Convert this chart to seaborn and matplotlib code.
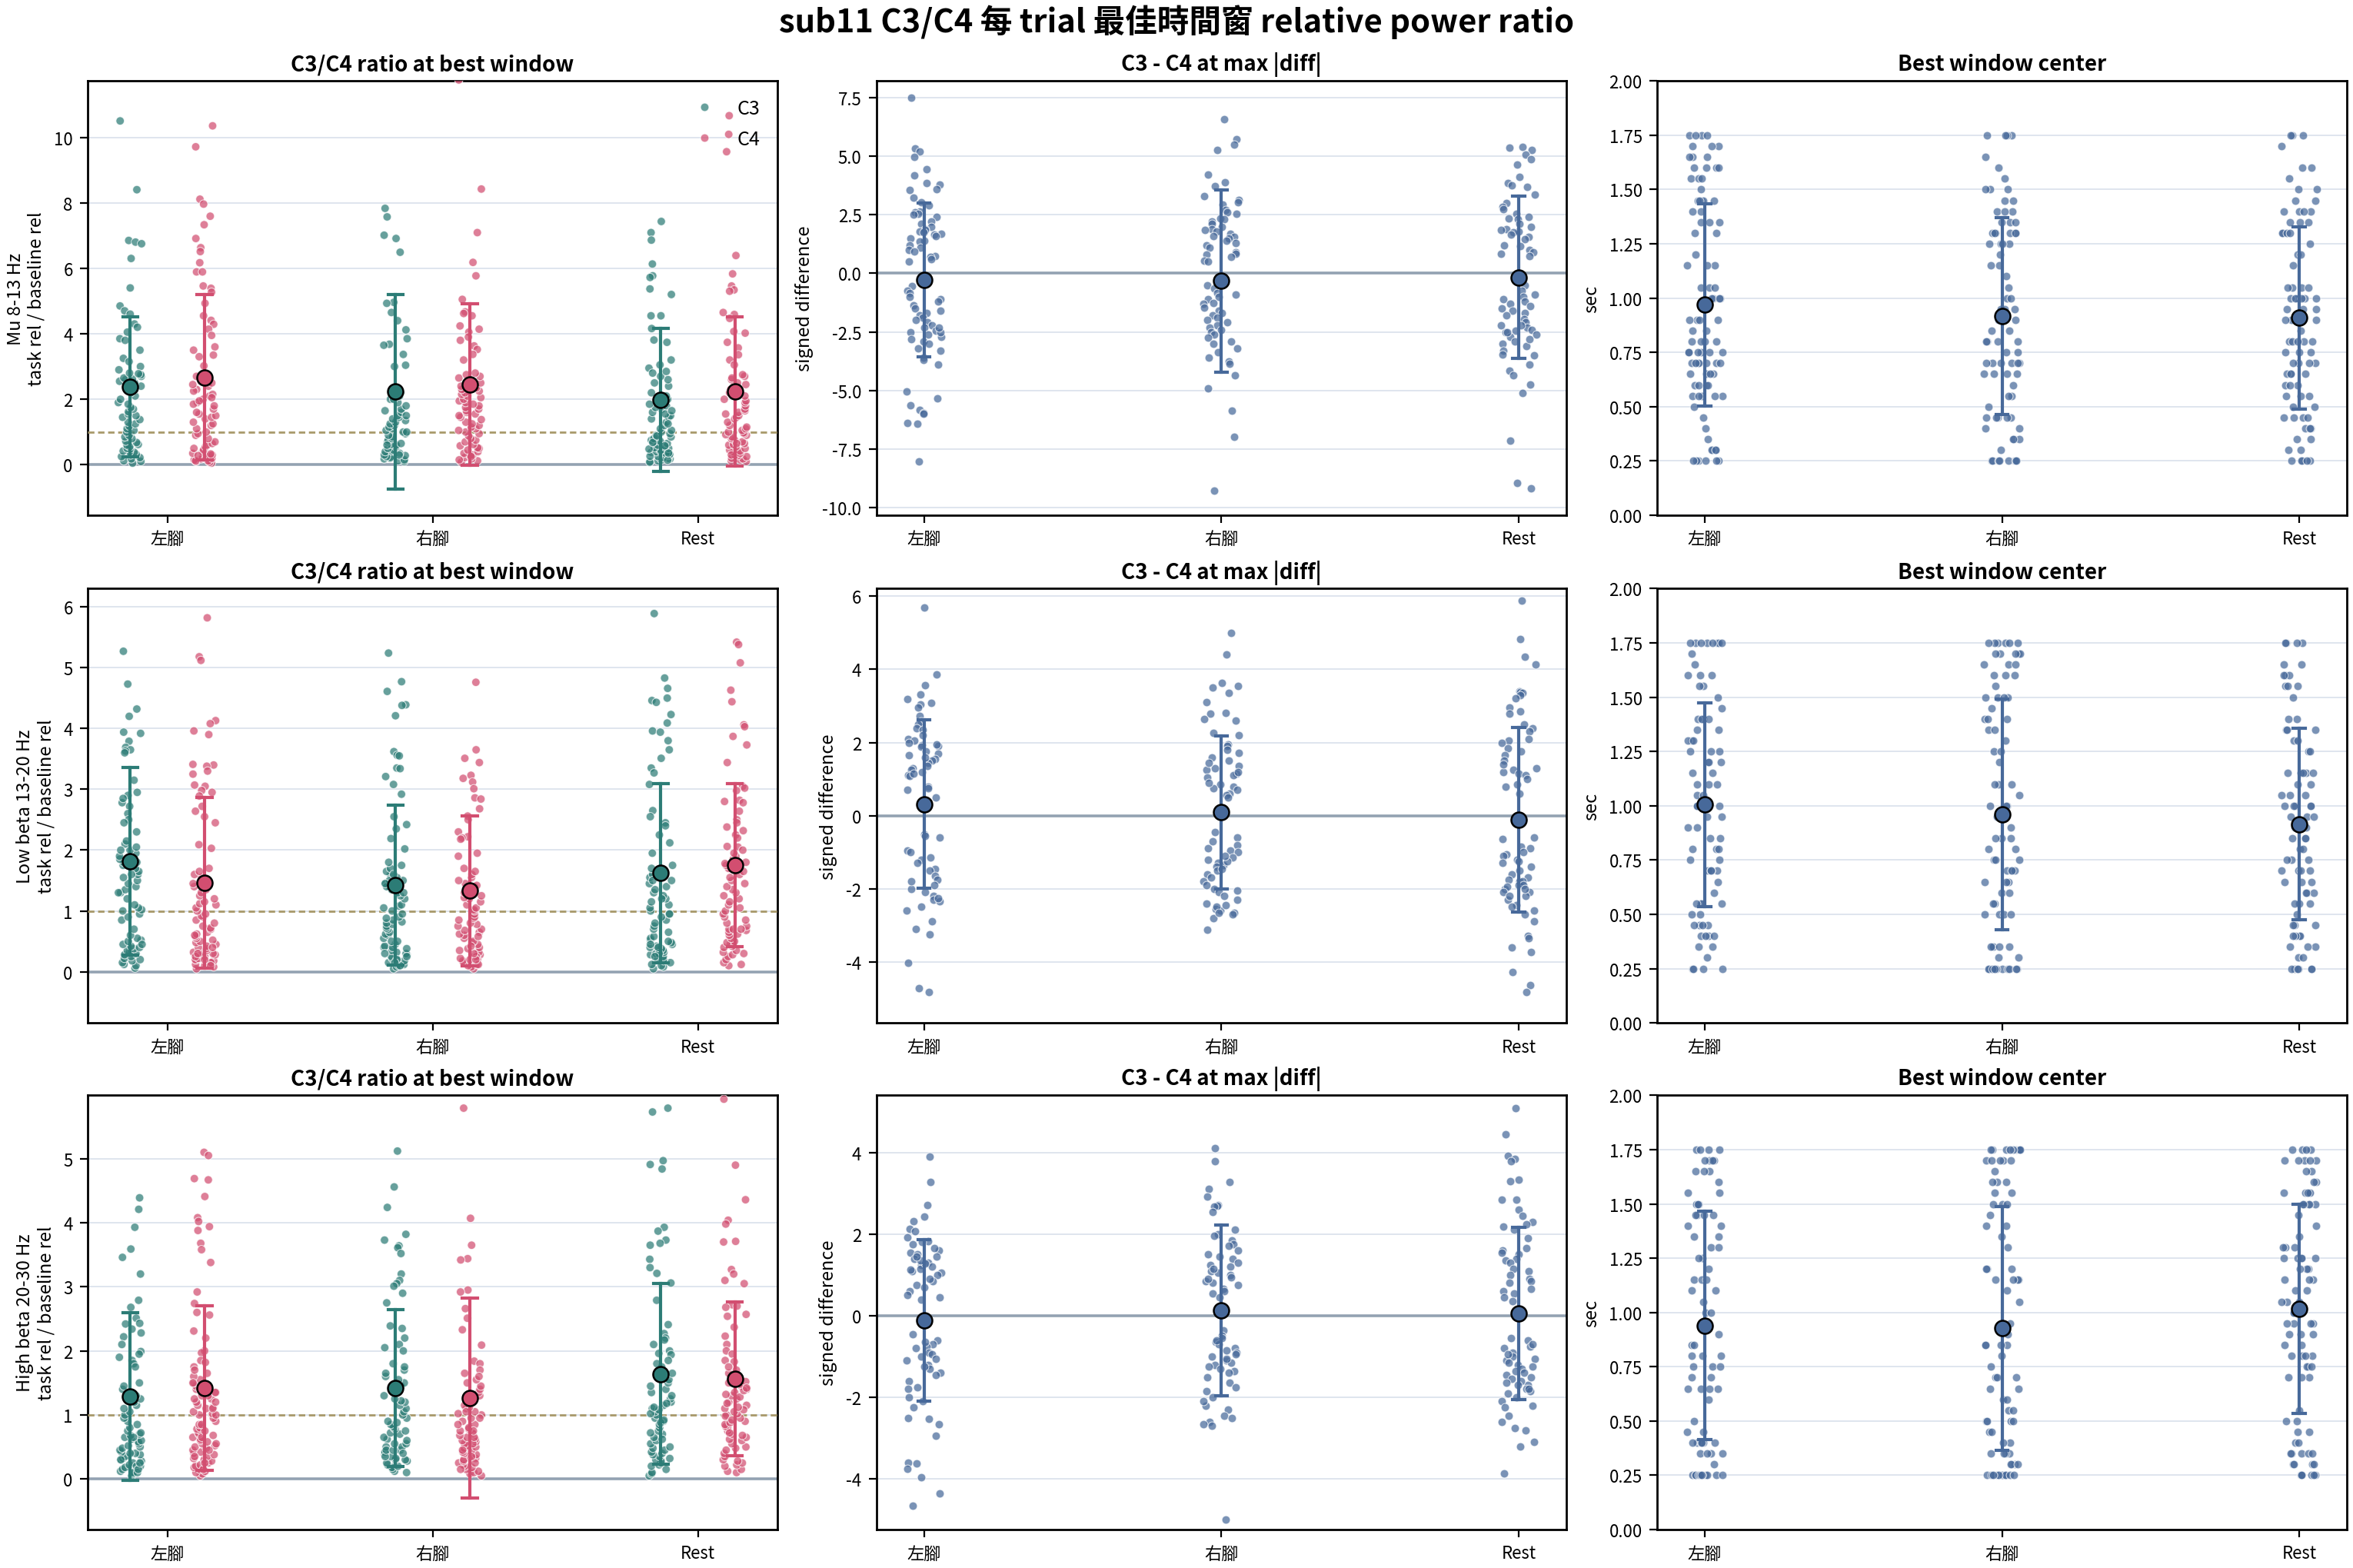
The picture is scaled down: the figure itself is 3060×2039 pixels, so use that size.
import numpy as np
import pandas as pd
import matplotlib
matplotlib.use('Agg')
import matplotlib.pyplot as plt
import seaborn as sns

# ---------------- data ----------------
conditions = ['左腳', '右腳', 'Rest']
band_labels = ['Mu 8-13 Hz\ntask rel / baseline rel',
               'Low beta 13-20 Hz\ntask rel / baseline rel',
               'High beta 20-30 Hz\ntask rel / baseline rel']

# Mu 8-13 Hz : C3 / C4 ratio at best window
mu_c3_left = [10.5, 8.4, 6.85, 6.8, 6.75, 6.3, 5.4, 4.85, 4.7, 4.6, 4.3, 4.2, 4.05, 3.85, 3.8, 3.5, 3.25, 3.15, 3.0, 2.9,
              0.05, 0.1, 0.12, 0.18, 0.22, 0.25, 0.3, 0.32, 0.38, 0.4, 0.42, 0.48, 0.5, 0.55, 0.6, 0.62, 0.68, 0.72, 0.8, 0.85, 0.9,
              1.0, 1.05, 1.1, 1.18, 1.25, 1.3, 1.38, 1.45, 1.5, 1.55, 1.62, 1.7, 1.75, 1.85, 1.9,
              2.0, 2.1, 2.2, 2.3, 2.4, 2.5, 2.55, 2.6, 2.62, 2.65, 2.7, 2.75, 2.78, 2.8]
mu_c4_left = [10.35, 9.71, 8.11, 7.96, 7.59, 7.33, 6.91, 6.63, 6.51, 6.17, 5.89, 5.89, 5.46, 5.39, 5.27, 4.93, 4.55, 4.41,
              4.29, 4.14, 3.95, 3.6, 3.5, 3.35, 3.3, 3.02,
              0.05, 0.08, 0.1, 0.12, 0.15, 0.18, 0.2, 0.22, 0.25, 0.28, 0.3, 0.33, 0.35, 0.4, 0.45, 0.5, 0.55, 0.6, 0.65, 0.7,
              0.12, 0.28, 0.8, 0.9, 0.95, 1.0, 1.1, 1.2, 1.25, 1.3, 1.4, 1.45, 1.5, 1.55, 1.6, 1.7, 1.8,
              1.9, 2.0, 2.1, 2.15, 2.3, 2.4, 2.5, 2.6, 2.7, 1.85, 1.95, 2.05, 2.25, 2.45, 2.55]
mu_c3_right = [7.83, 7.57, 7.01, 6.91, 6.49, 4.96, 4.93, 4.65, 4.4, 4.12, 3.85, 3.68, 3.65, 3.37, 3.04, 3.0, 20.0,
               0.1, 0.12, 0.15, 0.18, 0.2, 0.22, 0.25, 0.28, 0.3, 0.35, 0.4, 0.42, 0.45, 0.5, 0.55, 0.6, 0.62, 0.65, 0.7,
               0.75, 0.8, 0.85, 0.9, 0.95, 1.0, 1.05, 1.1, 1.15, 1.2, 1.25, 1.3, 1.35, 1.4, 1.45, 1.5, 1.6, 1.65, 1.7,
               1.8, 1.9, 2.0, 2.1, 2.2, 0.3, 0.6, 1.0, 1.5, 2.0, 2.3]
mu_c4_right = [11.75, 8.42, 7.09, 6.18, 5.77, 5.05, 4.67, 4.62, 4.55, 4.24, 4.14, 4.05, 3.9, 3.8, 3.63, 3.52, 3.37, 3.2, 14.0,
               0.08, 0.12, 0.18, 0.22, 0.28, 0.3, 0.35, 0.4, 0.45, 0.5, 0.52, 0.58, 0.62, 0.7, 0.75, 0.8, 0.88, 0.95, 0.15, 0.25,
               1.0, 1.05, 1.1, 1.15, 1.2, 1.25, 1.3, 1.38, 1.45, 1.5, 1.55, 1.6, 1.65, 1.7, 1.75, 1.8, 1.85, 1.9, 1.95, 2.0,
               2.05, 2.1, 2.15, 2.2, 2.25, 2.3, 2.35, 2.4, 2.5, 2.6, 2.65, 2.7, 2.75, 2.8]
mu_c3_rest = [7.43, 7.09, 6.86, 6.13, 5.77, 5.72, 5.37, 5.2, 4.55, 4.55, 4.16, 3.81, 3.74, 3.2, 3.05, 2.95, 12.0,
              0.1, 0.12, 0.15, 0.18, 0.2, 0.22, 0.25, 0.28, 0.3, 0.32, 0.35, 0.38, 0.4, 0.42, 0.45, 0.5, 0.52, 0.55, 0.6,
              0.65, 0.7, 0.72, 0.75, 0.8, 0.85, 0.9, 0.95, 1.0, 0.08, 0.14, 0.26, 0.36, 0.48, 0.58, 0.68, 0.88,
              1.05, 1.1, 1.2, 1.3, 1.4, 1.45, 1.5, 1.6, 1.7, 1.75, 1.8, 1.85, 1.9, 2.0, 2.1, 2.2,
              2.4, 2.5, 2.6, 2.7, 2.8, 2.85, 1.25, 1.55, 1.65]
mu_c4_rest = [10.66, 10.09, 9.56, 6.39, 5.83, 5.46, 5.34, 5.3, 4.65, 4.59, 4.47, 4.07, 4.02, 3.74, 3.57, 3.36, 3.2, 3.05,
              0.1, 0.12, 0.15, 0.18, 0.2, 0.25, 0.28, 0.3, 0.35, 0.4, 0.42, 0.45, 0.5, 0.55, 0.6, 0.62, 0.65, 0.7, 0.75,
              0.8, 0.85, 0.9, 0.92, 0.95, 0.98, 1.0, 0.3, 0.65,
              1.05, 1.1, 1.15, 1.2, 1.3, 1.4, 1.45, 1.5, 1.55, 1.6, 1.65, 1.7, 1.8, 1.9, 1.95, 2.0, 2.1, 2.2,
              2.3, 2.4, 2.45, 2.5, 2.6, 2.65, 2.7, 2.75]

# Mu 8-13 Hz : C3 - C4 at max |diff|
mu_diff_left = [7.5, 5.32, 5.19, 4.98, 4.43, 4.19, 3.86, 3.8, 3.6, 3.56, 3.24, 3.03, 2.91, 2.65, 2.6, 2.55, 2.5, 2.4, 2.2,
                2.1, 2.0, 1.9, 1.85, 1.8, 1.75, 1.7, 1.65, 1.6, 1.5, 1.4, 1.35, 1.2, 1.1, 1.0, 0.95, 0.75, 0.7, 0.6, 0.5,
                -0.55, -0.75, -0.85, -1.0, -1.1, -1.2, -1.35, -1.5, -1.6, -1.7, -1.8, -1.9, -2.0, -2.1, -2.2, -2.3, -2.45,
                -2.5, -2.6, -2.7, -2.8, -2.9, -3.0, -3.2, -3.3, -3.6, -3.7, -3.9, -5.04, -5.34, -5.63, -5.82, -5.95, -6.0,
                -6.39, -6.42, -8.02, -2.5, -2.3]
mu_diff_right = [6.59, 5.74, 5.49, 5.28, 4.23, 3.9, 3.72, 3.31, 3.14, 3.05, 2.95, 2.7, 2.6, 2.55, 2.35, 2.3, 2.2, 2.1, 2.0,
                 1.9, 1.85, 1.8, 1.7, 1.6, 1.55, 1.5, 1.4, 1.3, 1.2, 1.1, 0.9, 0.85, 0.8, 0.7, 0.55, 0.5,
                 -0.5, -0.65, -0.85, -0.9, -1.0, -1.1, -1.25, -1.3, -1.45, -1.6, -1.7, -1.8, -1.9, -2.0, -2.1, -2.2, -2.3,
                 -2.4, -2.5, -2.6, -2.75, -2.9, -3.0, -3.2, -3.35, -3.6, -3.75, -3.85, -4.36, -4.91, -5.86, -6.98, -9.26,
                 -20.0]
mu_diff_rest = [5.4, 5.35, 5.28, 5.07, 4.88, 4.64, 4.12, 3.87, 3.75, 3.7, 3.36, 3.0, 2.85, 2.75, 2.55, 2.4, 2.35, 2.3, 2.1,
                2.0, 1.9, 1.85, 1.8, 1.75, 1.65, 1.55, 1.45, 1.2, 1.15, 1.0, 0.9, 0.85, 0.75, 8.6,
                -0.5, -0.75, -0.9, -1.0, -1.1, -1.2, -1.3, -1.4, -1.5, -1.6, -1.7, -1.8, -1.95, -2.1, -2.3, -2.4, -2.45,
                -2.5, -2.7, -2.9, -3.0, -3.1, -3.3, -3.45, -3.5, -3.88, -4.14, -4.36, -4.75, -5.11, -7.14, -8.93, -9.17,
                -2.2, -2.6, -2.2, -2.5, -2.8]

# Mu 8-13 Hz : best window center (sec)
mu_center_left = [1.75, 1.75, 1.75, 1.75, 1.7, 1.7, 1.7, 1.65, 1.65, 1.65, 1.6, 1.6, 1.6, 1.6, 1.55, 1.55, 1.55, 1.5,
                  1.45, 1.45, 1.45, 1.45, 1.45, 1.4, 1.4, 1.35, 1.35, 1.35, 1.3, 1.3, 1.2, 1.15, 1.15, 1.15,
                  1.05, 1.05, 1.05, 1.0, 1.0, 1.0, 1.0, 0.9, 0.9, 0.9, 0.9, 0.85, 0.85, 0.8, 0.8, 0.8, 0.8,
                  0.75, 0.75, 0.75, 0.75, 0.75, 0.75, 0.7, 0.7, 0.7, 0.7, 0.7, 0.7, 0.7, 0.65, 0.65, 0.65, 0.65,
                  0.6, 0.6, 0.6, 0.6, 0.55, 0.55, 0.55, 0.55, 0.55, 0.5, 0.45, 0.4, 0.35, 0.3, 0.3, 0.3, 0.3,
                  0.25, 0.25, 0.25, 0.25, 0.25, 0.25]
mu_center_right = [1.75, 1.75, 1.75, 1.75, 1.65, 1.6, 1.55, 1.5, 1.5, 1.5, 1.45, 1.45, 1.4, 1.4, 1.4, 1.35, 1.35, 1.35,
                   1.3, 1.3, 1.3, 1.3, 1.3, 1.3, 1.25, 1.25, 1.25, 1.25, 1.2, 1.15, 1.15, 1.1, 1.05, 1.0, 1.0,
                   0.95, 0.95, 0.95, 0.9, 0.9, 0.85, 0.85, 0.8, 0.8, 0.8, 0.8, 0.75, 0.75, 0.7, 0.7, 0.7, 0.7, 0.7, 0.7,
                   0.65, 0.65, 0.65, 0.65, 0.6, 0.55, 0.55, 0.5, 0.45, 0.45, 0.45, 0.45, 0.45, 0.4, 0.4,
                   0.35, 0.35, 0.35, 0.3, 0.25, 0.25, 0.25, 0.25, 0.25, 0.25, 0.25, 0.25]
mu_center_rest = [1.75, 1.75, 1.75, 1.7, 1.6, 1.6, 1.55, 1.5, 1.5, 1.45, 1.45, 1.4, 1.4, 1.4, 1.4, 1.35, 1.35, 1.35,
                  1.3, 1.3, 1.3, 1.3, 1.25, 1.2, 1.2, 1.15, 1.05, 1.05, 1.05, 1.05, 1.0, 1.0, 1.0, 1.0, 1.0, 1.0,
                  0.95, 0.95, 0.95, 0.9, 0.9, 0.9, 0.9, 0.9, 0.85, 0.8, 0.8, 0.8, 0.8, 0.8, 0.75, 0.75, 0.75,
                  0.7, 0.7, 0.7, 0.7, 0.65, 0.65, 0.65, 0.65, 0.6, 0.6, 0.6, 0.55, 0.55, 0.55, 0.5, 0.5,
                  0.45, 0.45, 0.45, 0.45, 0.4, 0.4, 0.4, 0.35, 0.35, 0.3, 0.3, 0.25, 0.25, 0.25, 0.25, 0.25]

# Low beta 13-20 Hz : ratio
lb_c3_left = [5.27, 4.73, 4.32, 4.2, 3.94, 3.92, 3.79, 3.69, 3.65, 3.63, 3.6, 3.15, 2.95, 2.9, 2.78, 2.72, 2.6, 2.5, 2.45,
              2.3, 2.85, 9.0,
              0.06, 0.1, 0.12, 0.15, 0.18, 0.2, 0.22, 0.25, 0.28, 0.3, 0.33, 0.35, 0.38, 0.42, 0.45, 0.5, 0.52, 0.55, 0.6,
              0.7, 0.85, 0.9, 0.95, 1.0, 1.02, 1.05, 1.1, 1.2, 1.3, 1.35, 1.4, 1.45, 1.5, 1.55, 1.6, 1.65, 1.7, 1.75,
              1.8, 1.85, 1.9, 1.95, 2.0, 2.05, 2.1, 2.15, 0.4, 0.45, 2.0, 1.8, 1.6, 1.3]
lb_c4_left = [5.82, 5.18, 5.12, 4.13, 4.08, 3.96, 3.9, 3.41, 3.4, 3.38, 3.3, 3.25, 3.07, 3.05, 2.98, 2.95, 2.89, 2.72,
              2.64, 2.55, 2.45, 2.09, 2.03,
              0.05, 0.08, 0.1, 0.12, 0.15, 0.18, 0.2, 0.2, 0.22, 0.25, 0.28, 0.3, 0.3, 0.32, 0.35, 0.38, 0.4, 0.42, 0.45,
              0.48, 0.5, 0.52, 0.55, 0.58, 0.62, 0.15, 0.25,
              0.6, 0.65, 0.7, 0.72, 0.75, 0.8, 0.85, 0.9, 0.92, 0.95, 1.0, 1.05, 1.1, 1.12, 1.15, 1.2, 1.25, 1.3, 1.35,
              1.4, 1.45, 1.5, 1.55, 1.6, 1.65, 1.7, 0.1, 0.2, 0.3, 0.4]
lb_c3_right = [5.24, 4.77, 4.61, 4.39, 4.38, 4.21, 3.62, 3.56, 3.55, 3.35, 3.34, 3.21, 3.08, 2.92, 2.55, 2.42, 2.35, 2.19,
               2.02,
               0.05, 0.08, 0.1, 0.12, 0.15, 0.18, 0.2, 0.22, 0.25, 0.28, 0.3, 0.32, 0.35, 0.38, 0.4, 0.42, 0.45, 0.5,
               0.55, 0.6, 0.62, 0.65, 0.7, 0.72, 0.75, 0.78, 0.8, 0.82, 0.85, 0.88, 0.9, 0.95, 1.0, 1.05, 1.08, 1.1,
               1.2, 1.25, 1.3, 1.35, 1.4, 1.45, 1.5, 1.55, 1.6, 1.65, 1.7, 1.75, 1.8, 0.3, 0.4, 0.5, 0.1, 0.2, 0.15, 0.25,
               1.3, 1.4, 1.5, 1.6, 1.45]
lb_c4_right = [4.76, 3.65, 3.51, 3.44, 3.23, 3.18, 3.12, 3.01, 2.86, 2.84, 2.68, 2.56, 2.5, 2.3, 2.22, 2.2, 2.18, 1.95,
               1.9, 6.5,
               0.05, 0.08, 0.1, 0.12, 0.15, 0.18, 0.2, 0.22, 0.25, 0.28, 0.3, 0.32, 0.35, 0.38, 0.4, 0.45, 0.48, 0.5,
               0.55, 0.6, 0.62, 0.65, 0.68, 0.7, 0.75, 0.78, 0.8, 0.85, 0.88, 0.9, 0.95, 1.0, 1.02, 1.05, 1.1, 1.15,
               1.2, 1.22, 1.25, 1.3, 1.35, 1.4, 1.42, 1.45, 1.5, 1.55, 1.6, 1.65, 1.7, 0.2, 0.25, 0.12, 0.2, 0.3, 0.42, 0.58]
lb_c3_rest = [5.89, 4.83, 4.66, 4.5, 4.46, 4.43, 4.23, 4.09, 3.96, 3.94, 3.8, 3.65, 3.51, 3.35, 3.27, 3.08, 2.65, 2.55,
              2.45, 2.4, 2.25, 2.12, 1.95,
              0.05, 0.08, 0.1, 0.12, 0.15, 0.18, 0.2, 0.22, 0.25, 0.28, 0.3, 0.32, 0.35, 0.38, 0.4, 0.42, 0.45, 0.48,
              0.5, 0.52, 0.55, 0.58,
              0.65, 0.7, 0.75, 0.8, 0.85, 0.9, 0.95, 1.0, 1.05, 1.1, 1.15, 1.2, 1.25, 1.3, 1.35, 1.4, 1.45, 1.5, 1.55,
              1.6, 1.65, 1.7, 1.75, 0.3, 0.45, 1.5, 1.2, 0.95, 0.25, 0.4]
lb_c4_rest = [5.42, 5.38, 5.08, 4.63, 4.44, 4.06, 4.03, 3.87, 3.73, 3.44, 3.05, 3.02, 2.98, 2.82, 2.8, 2.78, 2.64, 2.5,
              2.45, 2.38, 2.32, 2.25, 2.2, 2.06, 2.05,
              0.1, 0.12, 0.15, 0.2, 0.25, 0.28, 0.3, 0.32, 0.35, 0.4, 0.42, 0.45, 0.48, 0.5, 0.55, 0.6, 0.62, 0.65,
              0.68, 0.7, 0.75, 0.8, 0.85, 0.9, 0.95, 1.0, 1.05, 1.1, 1.15, 1.2, 1.25, 1.3, 1.35, 1.4, 1.45, 1.5, 1.55,
              1.6, 1.65, 1.7, 1.75, 1.8, 1.85, 1.9, 1.95, 2.0, 0.7, 0.7, 1.82, 1.78]

lb_diff_left = [5.7, 3.87, 3.57, 3.32, 3.18, 3.09, 3.05, 2.95, 2.73, 2.58, 2.5, 2.4, 2.35, 2.1, 2.05, 1.92, 1.9, 1.88,
                1.75, 1.7, 1.55, 1.5, 1.45, 1.35, 1.3, 1.25, 1.1, 1.08, 0.8, 0.75, 0.7, 0.5, 1.2, 1.6, 1.65, 1.95, 2.0,
                1.15, 2.2,
                -0.52, -0.55, -0.6, -0.95, -1.15, -1.2, -1.45, -1.5, -1.65, -1.75, -1.9, -2.0, -2.1, -2.2, -2.3, -2.35,
                -2.5, -2.6, -2.9, -3.1, -3.25, -4.02, -4.73, -4.83, -1.0, -1.3, -1.8, -2.25]
lb_diff_right = [5.0, 4.41, 3.64, 3.54, 3.5, 3.35, 3.1, 2.81, 2.79, 2.65, 2.6, 2.26, 2.2, 1.95, 1.9, 1.8, 1.71, 1.6, 1.35,
                 1.3, 1.25, 1.15, 1.05, 0.85, 0.8, 0.75, 0.6, 0.55, 0.5, 1.45, 1.5, 1.1, 0.9, 1.2, 0.7,
                 -0.45, -0.6, -0.8, -0.9, -0.95, -1.0, -1.15, -1.2, -1.3, -1.35, -1.4, -1.5, -1.6, -1.8, -2.0, -2.1,
                 -2.2, -2.3, -2.4, -2.55, -2.65, -2.7, -3.12, -1.25, -1.9, -2.05, -0.7, -1.1, -2.6, -1.45, -1.7, -2.5,
                 -2.8, -2.45, -2.65]
lb_diff_rest = [5.89, 4.82, 4.34, 4.14, 3.4, 3.38, 3.35, 3.3, 3.2, 2.95, 2.85, 2.8, 2.5, 2.4, 2.3, 2.1, 2.05, 2.0, 1.85,
                1.75, 1.65, 1.5, 1.3, 1.25, 1.2, 1.15, 1.1, 0.85, 0.8, 0.6, 1.4, 1.0,
                -0.6, -0.65, -0.85, -0.9, -1.0, -1.05, -1.1, -1.2, -1.3, -1.4, -1.5, -1.6, -1.7, -1.75, -1.8, -1.9, -2.0,
                -2.1, -2.2, -2.3, -2.45, -2.5, -2.6, -2.7, -2.9, -3.3, -3.35, -3.61, -3.74, -4.28, -4.64, -4.83, -1.25,
                -1.95, -1.8, -1.9, -2.0, -2.1, -2.2]

lb_center_left = [1.75, 1.75, 1.75, 1.75, 1.75, 1.75, 1.75, 1.75, 1.7, 1.65, 1.6, 1.6, 1.6, 1.55, 1.55, 1.5, 1.45,
                  1.4, 1.4, 1.4, 1.4, 1.35, 1.35, 1.3, 1.3, 1.3, 1.25, 1.25, 1.25, 1.2, 1.2, 1.2, 1.15, 1.15,
                  1.1, 1.1, 1.1, 1.05, 1.05, 1.0, 1.0, 1.0, 1.0, 0.95, 0.95, 0.9, 0.9, 0.85, 0.85, 0.8, 0.8, 0.8,
                  0.75, 0.75, 0.7, 0.7, 0.7, 0.7, 0.65, 0.6, 0.55, 0.55, 0.55, 0.55, 0.5, 0.5, 0.45, 0.45, 0.45, 0.45,
                  0.4, 0.4, 0.4, 0.4, 0.35, 0.35, 0.3, 0.25, 0.25, 0.25, 0.25]
lb_center_right = [1.75, 1.75, 1.75, 1.75, 1.75, 1.75, 1.7, 1.7, 1.7, 1.7, 1.7, 1.65, 1.65, 1.65, 1.6, 1.6, 1.6, 1.55,
                   1.5, 1.5, 1.5, 1.5, 1.45, 1.4, 1.4, 1.4, 1.35, 1.35, 1.3, 1.25, 1.25, 1.2, 1.1, 1.1, 1.1, 1.05,
                   1.0, 1.0, 1.0, 0.95, 0.9, 0.85, 0.85, 0.85, 0.8, 0.8, 0.75, 0.75, 0.75, 0.7, 0.7, 0.7, 0.7,
                   0.65, 0.65, 0.65, 0.6, 0.6, 0.55, 0.55, 0.5, 0.5, 0.5, 0.5, 0.35, 0.35, 0.35, 0.35, 0.35, 0.3, 0.3,
                   0.25, 0.25, 0.25, 0.25, 0.25, 0.25, 0.25, 0.25, 0.25, 0.25, 0.25, 0.25]
lb_center_rest = [1.75, 1.75, 1.75, 1.75, 1.65, 1.65, 1.6, 1.6, 1.6, 1.55, 1.55, 1.55, 1.5, 1.4, 1.4, 1.35, 1.35, 1.35,
                  1.3, 1.3, 1.25, 1.25, 1.15, 1.15, 1.15, 1.15, 1.15, 1.1, 1.1, 1.05, 1.05, 1.05, 1.0, 1.0, 1.0, 1.0,
                  1.0, 0.95, 0.95, 0.95, 0.9, 0.9, 0.9, 0.9, 0.9, 0.85, 0.85, 0.85, 0.8, 0.8, 0.75, 0.75, 0.75,
                  0.7, 0.7, 0.7, 0.7, 0.65, 0.65, 0.65, 0.6, 0.6, 0.6, 0.55, 0.55, 0.55, 0.5, 0.45, 0.45, 0.45,
                  0.4, 0.4, 0.4, 0.4, 0.35, 0.35, 0.35, 0.3, 0.3, 0.25, 0.25, 0.25, 0.25, 0.25, 0.25]

# High beta 20-30 Hz : ratio
hb_c3_left = [4.39, 4.21, 3.93, 3.59, 3.46, 3.2, 2.79, 2.68, 2.51, 2.43, 2.42, 2.34, 2.28, 2.22, 2.1, 1.99, 1.95, 1.9,
              1.85, 1.8, 1.75, 7.5,
              0.05, 0.08, 0.1, 0.12, 0.15, 0.18, 0.2, 0.22, 0.25, 0.28, 0.3, 0.32, 0.35, 0.38, 0.4, 0.42, 0.45, 0.48,
              0.5, 0.52, 0.55, 0.58,
              0.6, 0.62, 0.65, 0.68, 0.7, 0.72, 0.75, 0.8, 0.85, 0.9, 0.95, 1.0, 1.05, 1.1, 1.15, 1.2, 1.25, 1.3, 1.35,
              1.4, 1.45, 1.5, 0.65, 0.3, 0.4, 0.2, 0.1, 0.15, 0.25]
hb_c4_left = [5.1, 5.05, 4.69, 4.67, 4.41, 4.08, 4.02, 3.94, 3.88, 3.68, 3.58, 3.38, 2.92, 2.74, 2.6, 2.56, 2.31, 2.2,
              2.0, 1.97, 1.85, 1.82, 1.75,
              0.05, 0.08, 0.1, 0.12, 0.15, 0.18, 0.2, 0.22, 0.25, 0.28, 0.3, 0.32, 0.35, 0.38, 0.4, 0.42, 0.45, 0.48,
              0.5, 0.52, 0.55, 0.58,
              0.6, 0.62, 0.65, 0.68, 0.7, 0.72, 0.75, 0.78, 0.8, 0.85, 0.9, 0.95, 1.0, 1.02, 1.05, 1.1, 1.12, 1.15,
              1.2, 1.25, 1.3, 1.35, 1.4, 1.45, 1.5, 1.55, 1.6, 1.65, 1.7, 0.15, 0.25, 0.35, 0.45, 0.55, 0.65, 0.75, 0.85,
              1.0, 1.1, 1.2, 1.3, 1.4, 1.5, 1.25, 1.35]
hb_c3_right = [5.12, 4.56, 4.24, 3.82, 3.73, 3.64, 3.61, 3.52, 3.2, 3.1, 3.05, 3.01, 2.9, 2.75, 2.39, 2.35, 2.2, 2.1,
               2.05, 2.0,
               0.1, 0.12, 0.15, 0.18, 0.2, 0.22, 0.25, 0.28, 0.3, 0.32, 0.35, 0.38, 0.4, 0.42, 0.45, 0.5, 0.55, 0.6,
               0.62, 0.65, 0.7, 0.72, 0.75, 0.78, 0.8, 0.82, 0.85, 0.88, 0.9, 0.95, 1.0, 1.05, 1.1, 1.15, 1.2, 1.22,
               1.25, 1.3, 1.35, 1.4, 1.45, 1.5, 1.55, 1.6, 1.65, 1.7, 1.75, 1.8, 0.35, 0.5, 0.45, 0.3, 0.45, 0.55, 0.4]
hb_c4_right = [5.79, 4.07, 3.65, 3.44, 3.42, 2.95, 2.92, 2.66, 2.51, 2.33, 2.09, 1.84, 1.8, 1.7, 1.65, 11.0,
               0.05, 0.08, 0.1, 0.12, 0.15, 0.18, 0.2, 0.22, 0.25, 0.28, 0.3, 0.32, 0.35, 0.38, 0.4, 0.42, 0.45, 0.48,
               0.5, 0.52, 0.55, 0.58,
               0.6, 0.62, 0.65, 0.68, 0.7, 0.72, 0.75, 0.78, 0.8, 0.85, 0.9, 0.95, 1.0, 1.02, 1.05, 1.1, 1.12, 1.15,
               1.2, 1.25, 1.3, 1.35, 1.4, 1.45, 1.5, 1.55, 1.6, 0.15, 0.25, 0.35, 0.45, 0.55, 0.65, 0.75, 0.85, 0.95, 1.05]
hb_c3_rest = [5.79, 5.73, 4.97, 4.91, 4.84, 3.93, 3.87, 3.73, 3.68, 3.65, 3.43, 3.3, 3.21, 3.06, 2.79, 2.41, 2.27, 2.2,
              2.17, 2.1, 2.0, 1.96, 1.94,
              0.05, 0.08, 0.1, 0.15, 0.2, 0.22, 0.25, 0.28, 0.3, 0.32, 0.35, 0.38, 0.4, 0.42, 0.45, 0.48, 0.5, 0.55,
              0.6, 0.65, 0.7, 0.75, 0.8, 0.85, 0.9, 0.95, 1.0, 1.05, 1.1, 1.15, 1.2, 1.25, 1.3, 1.35, 1.4, 1.45, 1.5,
              1.55, 1.6, 1.65, 1.7, 1.75, 1.8, 1.85, 0.62, 0.88, 1.08, 1.18, 0.72, 0.92, 1.02, 1.12]
hb_c4_rest = [5.93, 4.9, 4.36, 4.04, 3.98, 3.71, 3.7, 3.27, 3.2, 3.1, 3.05, 2.72, 2.7, 2.68, 2.57, 2.54, 2.37, 2.23,
              2.1, 2.0, 1.95, 1.85, 1.83,
              0.1, 0.12, 0.15, 0.2, 0.22, 0.25, 0.28, 0.3, 0.35, 0.4, 0.45, 0.48, 0.5, 0.55,
              0.6, 0.62, 0.65, 0.7, 0.75, 0.8, 0.82, 0.85, 0.9, 0.95, 1.0, 1.02, 1.05, 1.1, 1.15, 1.2, 1.25, 1.3, 1.35,
              1.4, 1.45, 1.5, 1.55, 1.6, 1.65, 1.7, 1.75, 0.68, 0.88, 0.98, 1.08, 1.18, 1.28, 1.38, 1.48, 1.52, 0.72,
              0.92, 1.12, 1.32, 1.42]

hb_diff_left = [3.9, 3.28, 2.71, 2.43, 2.32, 2.13, 2.08, 1.92, 1.82, 1.75, 1.6, 1.55, 1.5, 1.45, 1.3, 1.25, 1.2, 1.15,
                1.1, 1.05, 1.0, 0.85, 0.75, 0.7, 0.6, 0.5, 0.45, 0.4, 1.4, 1.65, 1.28, 0.9, 1.12, 1.8, 1.35, 1.45,
                -0.45, -0.6, -0.7, -0.75, -0.8, -0.9, -1.0, -1.1, -1.2, -1.3, -1.4, -1.45, -1.6, -1.75, -1.8, -2.0,
                -2.1, -2.25, -2.5, -2.52, -2.65, -2.95, -3.6, -3.62, -3.75, -3.95, -4.35, -4.65, -0.95, -1.25, -0.65,
                -1.05]
hb_diff_right = [4.11, 3.79, 3.28, 3.11, 2.91, 2.72, 2.7, 2.68, 2.55, 2.1, 2.0, 1.95, 1.85, 1.75, 1.72, 1.6, 1.5, 1.45,
                 1.4, 1.3, 1.25, 1.2, 1.1, 1.05, 1.0, 0.95, 0.85, 0.8, 0.75, 0.65, 0.6, 0.55, 0.45, 1.15, 0.9, 5.6,
                 -0.35, -0.5, -0.55, -0.65, -0.7, -0.8, -0.9, -0.95, -1.0, -1.1, -1.15, -1.2, -1.3, -1.35, -1.4, -1.65,
                 -1.85, -2.2, -2.3, -2.45, -2.6, -2.65, -2.7, -5.0, -0.6, -1.05, -1.25, -0.85, -1.5, -1.75, -2.0, -2.1,
                 -2.5, -5.6]
hb_diff_rest = [5.08, 4.44, 3.92, 3.84, 3.79, 3.34, 3.3, 2.85, 2.84, 2.59, 2.45, 2.3, 2.25, 2.18, 2.1, 1.9, 1.65,
                1.6, 1.55, 1.5, 1.4, 1.35, 1.3, 1.15, 1.1, 1.0, 0.9, 0.85, 0.8, 0.65, 0.6, 0.55, 0.45, 0.35,
                -0.55, -0.6, -0.75, -0.9, -1.0, -1.05, -1.1, -1.2, -1.3, -1.4, -1.45, -1.55, -1.65, -1.7, -1.8, -1.85,
                -2.0, -2.1, -2.2, -2.25, -2.45, -2.6, -2.75, -2.8, -3.1, -3.2, -3.87, -0.7, -0.8, -0.95, -1.15, -1.25,
                -1.35, -1.5, -1.6, -1.7, -1.8, -1.9]

hb_center_left = [1.75, 1.75, 1.75, 1.75, 1.7, 1.7, 1.7, 1.7, 1.65, 1.65, 1.65, 1.6, 1.55, 1.55, 1.5, 1.5, 1.5, 1.5,
                  1.45, 1.45, 1.45, 1.45, 1.4, 1.4, 1.35, 1.35, 1.3, 1.3, 1.25, 1.25, 1.2, 1.15, 1.15, 1.15, 1.1, 1.1,
                  1.05, 1.0, 1.0, 0.9, 0.85, 0.85, 0.8, 0.8, 0.8, 0.75, 0.75, 0.75, 0.7, 0.7, 0.65, 0.65, 0.65, 0.65,
                  0.6, 0.5, 0.45, 0.45, 0.4, 0.4, 0.4, 0.4, 0.4, 0.4, 0.35, 0.35, 0.35, 0.35, 0.3,
                  0.25, 0.25, 0.25, 0.25, 0.25, 0.25, 0.25, 0.25, 0.25, 0.25, 0.25, 0.25]
hb_center_right = [1.75, 1.75, 1.75, 1.75, 1.75, 1.75, 1.75, 1.75, 1.75, 1.7, 1.7, 1.7, 1.7, 1.7, 1.65, 1.6, 1.6, 1.6,
                   1.55, 1.55, 1.5, 1.5, 1.5, 1.45, 1.4, 1.4, 1.35, 1.3, 1.2, 1.2, 1.2, 1.15, 1.15, 1.15, 1.15, 1.1,
                   1.05, 0.95, 0.9, 0.85, 0.85, 0.85, 0.85, 0.8, 0.75, 0.7, 0.7, 0.7, 0.65, 0.65, 0.6, 0.6, 0.55, 0.55,
                   0.5, 0.5, 0.5, 0.5, 0.45, 0.45, 0.4, 0.4, 0.35, 0.35, 0.35, 0.35, 0.3, 0.3, 0.3, 0.3,
                   0.25, 0.25, 0.25, 0.25, 0.25, 0.25, 0.25, 0.25, 0.25, 0.25, 0.25, 0.25, 0.25, 0.25]
hb_center_rest = [1.75, 1.75, 1.75, 1.75, 1.7, 1.7, 1.7, 1.7, 1.7, 1.65, 1.65, 1.6, 1.6, 1.55, 1.55, 1.55, 1.55, 1.55,
                  1.5, 1.5, 1.5, 1.5, 1.5, 1.45, 1.4, 1.35, 1.3, 1.3, 1.3, 1.25, 1.25, 1.25, 1.25, 1.25, 1.2, 1.2, 1.2,
                  1.15, 1.15, 1.15, 1.1, 1.1, 1.05, 1.05, 1.05, 1.0, 1.0, 1.0, 0.95, 0.95, 0.95, 0.95, 0.9, 0.9, 0.9,
                  0.85, 0.85, 0.8, 0.8, 0.8, 0.8, 0.75, 0.75, 0.75, 0.7, 0.7, 0.7, 0.55, 0.5, 0.5, 0.45, 0.45,
                  0.4, 0.4, 0.35, 0.35, 0.35, 0.35, 0.35, 0.3, 0.3, 0.3, 0.3, 0.25, 0.25, 0.25, 0.25, 0.25, 0.25]

# ---------------- styling ----------------
plt.rcParams['font.family'] = ['Noto Sans CJK TC', 'DejaVu Sans']
plt.rcParams['axes.unicode_minus'] = False
plt.rcParams['axes.linewidth'] = 1.0
np.random.seed(7)  # jitter only

teal = '#2c7c76'
pink = '#d24e70'
blue = '#47699a'
zero_col = '#93a2b2'
ref_col = '#a8996a'
grid_col = '#dfe5ee'

ratio_rows = [
    ([mu_c3_left, mu_c3_right, mu_c3_rest], [mu_c4_left, mu_c4_right, mu_c4_rest], (-1.54, 11.72)),
    ([lb_c3_left, lb_c3_right, lb_c3_rest], [lb_c4_left, lb_c4_right, lb_c4_rest], (-0.84, 6.30)),
    ([hb_c3_left, hb_c3_right, hb_c3_rest], [hb_c4_left, hb_c4_right, hb_c4_rest], (-0.79, 5.99)),
]
diff_rows = [
    ([mu_diff_left, mu_diff_right, mu_diff_rest], (-10.32, 8.21)),
    ([lb_diff_left, lb_diff_right, lb_diff_rest], (-5.67, 6.21)),
    ([hb_diff_left, hb_diff_right, hb_diff_rest], (-5.24, 5.40)),
]
center_rows = [
    [mu_center_left, mu_center_right, mu_center_rest],
    [lb_center_left, lb_center_right, lb_center_rest],
    [hb_center_left, hb_center_right, hb_center_rest],
]

fig = plt.figure(figsize=(15.3, 10.2), dpi=200)
col_left = [0.0373, 0.3725, 0.7043]
row_bottom = [0.6711, 0.3475, 0.0245]
ax_w, ax_h = 0.2931, 0.2768

strip_kw = dict(size=3.9, alpha=0.72, edgecolor='white', linewidth=0.4)
point_kw = dict(errorbar='sd', linestyle='none', markers='o', markersize=7.2, markeredgecolor='black',
                markeredgewidth=0.9, err_kws={'linewidth': 1.5, 'linestyle': '-', 'zorder': 4}, zorder=5)


def style_axis(ax, title, ylabel):
    ax.set_title(title, fontsize=10, fontweight='bold', pad=5)
    ax.set_ylabel(ylabel, fontsize=8.5)
    ax.set_xlabel('')
    ax.grid(axis='y', color=grid_col, linewidth=0.7)
    ax.grid(axis='x', visible=False)
    ax.set_axisbelow(True)
    ax.tick_params(labelsize=8)
    for s in ax.spines.values():
        s.set_linewidth(1.0)
        s.set_color('black')


for r in range(3):
    # --- ratio panel ---
    c3_groups, c4_groups, ylim = ratio_rows[r]
    frames = []
    for ch, groups, off in (('C3', c3_groups, -0.14), ('C4', c4_groups, 0.14)):
        for i, vals in enumerate(groups):
            frames.append(pd.DataFrame({'pos': i + off, 'ratio': vals, 'ch': ch}))
    df = pd.concat(frames, ignore_index=True)
    ax = fig.add_axes([col_left[0], row_bottom[r], ax_w, ax_h])
    ax.axhline(0, color=zero_col, linewidth=1.3, zorder=1)
    ax.axhline(1, color=ref_col, linewidth=1.0, linestyle=(0, (3, 1.7)), zorder=3)
    sns.stripplot(data=df, x='pos', y='ratio', hue='ch', hue_order=['C3', 'C4'],
                  palette={'C3': teal, 'C4': pink}, native_scale=True, orient='x', jitter=0.16,
                  legend=(r == 0), ax=ax, **strip_kw)
    sns.pointplot(data=df, x='pos', y='ratio', hue='ch', hue_order=['C3', 'C4'],
                  palette={'C3': teal, 'C4': pink}, native_scale=True, orient='x', capsize=0.2,
                  legend=False, ax=ax, **point_kw)
    ax.set_xticks([0, 1, 2])
    ax.set_xticklabels(conditions)
    ax.set_xlim(-0.3, 2.3)
    ax.set_ylim(*ylim)
    style_axis(ax, 'C3/C4 ratio at best window', band_labels[r])
    if r == 0:
        leg = ax.get_legend()
        handles = leg.legend_handles
        labels = [t.get_text() for t in leg.get_texts()]
        leg.remove()
        ax.legend(handles, labels, loc='upper right', frameon=False, fontsize=9,
                  handlelength=1.0, handletextpad=1.2, labelspacing=0.55, borderaxespad=0.5)

    # --- signed difference panel ---
    groups, ylim = diff_rows[r]
    df = pd.DataFrame({'cond': np.repeat(conditions, [len(g) for g in groups]),
                       'diff': np.concatenate(groups)})
    ax = fig.add_axes([col_left[1], row_bottom[r], ax_w, ax_h])
    ax.axhline(0, color=zero_col, linewidth=1.3, zorder=1)
    sns.stripplot(data=df, x='cond', y='diff', order=conditions, color=blue, jitter=0.06, ax=ax, **strip_kw)
    sns.pointplot(data=df, x='cond', y='diff', order=conditions, color=blue, capsize=0.04, ax=ax, **point_kw)
    ax.set_xlim(-0.16, 2.16)
    ax.set_ylim(*ylim)
    style_axis(ax, 'C3 - C4 at max |diff|', 'signed difference')

    # --- best window center panel ---
    groups = center_rows[r]
    df = pd.DataFrame({'cond': np.repeat(conditions, [len(g) for g in groups]),
                       'center': np.concatenate(groups)})
    ax = fig.add_axes([col_left[2], row_bottom[r], ax_w, ax_h])
    sns.stripplot(data=df, x='cond', y='center', order=conditions, color=blue, jitter=0.06, ax=ax, **strip_kw)
    sns.pointplot(data=df, x='cond', y='center', order=conditions, color=blue, capsize=0.04, ax=ax, **point_kw)
    ax.set_xlim(-0.16, 2.16)
    ax.set_ylim(0, 2)
    ax.set_yticks(np.arange(0, 2.01, 0.25))
    ax.set_yticklabels([f'{t:.2f}' for t in np.arange(0, 2.01, 0.25)])
    style_axis(ax, 'Best window center', 'sec')

fig.text(0.5, 0.986, 'sub11 C3/C4 每 trial 最佳時間窗 relative power ratio',
         ha='center', va='center', fontsize=15, fontweight='bold')

fig.savefig('out.png', dpi=200)
